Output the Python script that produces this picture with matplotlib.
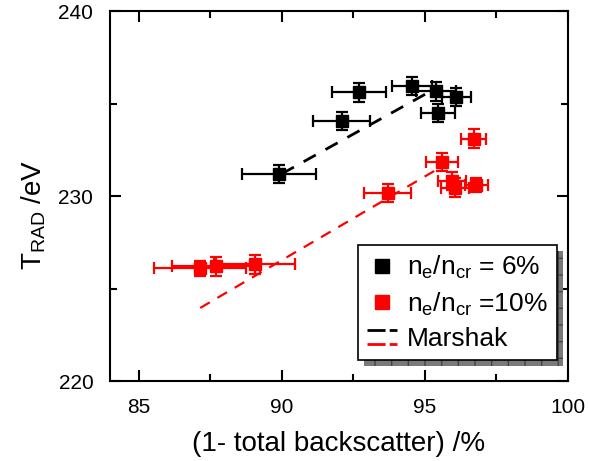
import matplotlib
matplotlib.use("Agg")
import matplotlib.pyplot as plt
from matplotlib.lines import Line2D
from matplotlib.legend_handler import HandlerBase
from matplotlib.patches import Rectangle
from matplotlib.transforms import IdentityTransform

plt.rcParams['font.family'] = ['Liberation Sans', 'DejaVu Sans']
plt.rcParams['mathtext.default'] = 'regular'

# n_e/n_cr = 6 %
x6 = [89.9, 92.1, 92.7, 94.55, 95.4, 96.1, 95.45]
y6 = [231.2, 234.05, 235.6, 235.95, 235.65, 235.35, 234.5]
xerr6 = [1.3, 1.0, 0.93, 0.7, 0.7, 0.5, 0.6]
yerr6 = [0.5, 0.5, 0.5, 0.5, 0.5, 0.5, 0.5]

# n_e/n_cr = 10 %
x10 = [96.7, 95.6, 95.95, 96.05, 96.8, 93.7, 87.15, 87.7, 89.05]
y10 = [233.1, 231.85, 230.8, 230.45, 230.6, 230.15, 226.1, 226.2, 226.3]
xerr10 = [0.42, 0.57, 0.5, 0.5, 0.4, 0.83, 1.6, 1.55, 1.4]
yerr10 = [0.5, 0.5, 0.5, 0.5, 0.4, 0.5, 0.4, 0.5, 0.5]

# Marshak scaling lines
marshak6_x = [90.0, 95.3]
marshak6_y = [231.2, 235.75]
marshak10_x = [87.15, 95.6]
marshak10_y = [223.95, 231.6]


class StackedDashes(HandlerBase):
    def create_artists(self, legend, orig_handle, xd, yd, width, height, fontsize, trans):
        arts = []
        for i, c in enumerate(orig_handle):
            yy = yd + height / 2 + 5 - 10 * i
            ln = Line2D([xd, xd + width], [yy, yy], color=c, ls=(0, (6.5, 1.5)), lw=2)
            ln.set_transform(trans)
            arts.append(ln)
        return arts


fig = plt.figure(figsize=(5.89, 4.61), dpi=100)
ax = fig.add_axes([0.1868, 0.1735, 0.7775, 0.8026])

ax.plot(marshak6_x, marshak6_y, color='black', ls=(0, (5, 4)), lw=2, zorder=2)
ax.plot(marshak10_x, marshak10_y, color='red', ls=(0, (5, 4)), lw=1.6, zorder=2)

ax.errorbar(x6, y6, xerr=xerr6, yerr=yerr6, fmt='s', color='black', ms=9,
            elinewidth=1.6, capsize=4, capthick=1.6, zorder=3)
ax.errorbar(x10, y10, xerr=xerr10, yerr=yerr10, fmt='s', color='red', ms=9,
            elinewidth=1.6, capsize=4, capthick=1.6, zorder=3)

ax.set_xlim(84, 100)
ax.set_ylim(220, 240)
ax.set_xticks([85, 90, 95, 100])
ax.set_xticks([87.5, 92.5, 97.5], minor=True)
ax.set_yticks([220, 230, 240])
ax.set_yticks([225, 235], minor=True)
ax.tick_params(which='both', direction='in', top=True, right=True, width=1.5,
               labelsize=15)
ax.tick_params(axis='y', pad=12)
ax.tick_params(axis='x', pad=12)
ax.tick_params(which='major', length=8)
ax.tick_params(which='minor', length=5)
for s in ax.spines.values():
    s.set_linewidth(1.5)

ax.set_xlabel('(1- total backscatter) /%', fontsize=20, labelpad=10)
ax.set_ylabel('T$_{RAD}$ /eV', fontsize=20)
ax.yaxis.set_label_coords(-0.135, 0.449)

handles = [
    Line2D([], [], marker='s', color='black', ls='none', ms=10),
    Line2D([], [], marker='s', color='red', ls='none', ms=10),
    ('black', 'red'),
]
labels = ['n$_e$/n$_{cr}$ = 6%', 'n$_e$/n$_{cr}$ =10%', 'Marshak']
leg = ax.legend(handles, labels, handler_map={tuple: StackedDashes()},
                loc='upper left', bbox_to_anchor=(0.541, 0.368),
                fontsize=19, frameon=True, fancybox=False, edgecolor='black',
                framealpha=1, handlelength=1.15, handletextpad=0.35,
                labelspacing=0.35, borderpad=0.35, borderaxespad=0)
leg.get_frame().set_linewidth(1.2)

# offset grey shadow behind the legend box
fig.canvas.draw()
bb = leg.get_window_extent()
shadow = Rectangle((bb.x0 + 6, bb.y0 - 6), bb.width, bb.height,
                   transform=IdentityTransform(), facecolor='#7a7a7a',
                   edgecolor='#444444', hatch='+', lw=0, clip_on=False, zorder=4.5)
ax.add_patch(shadow)

fig.savefig('out.png', dpi=100)
